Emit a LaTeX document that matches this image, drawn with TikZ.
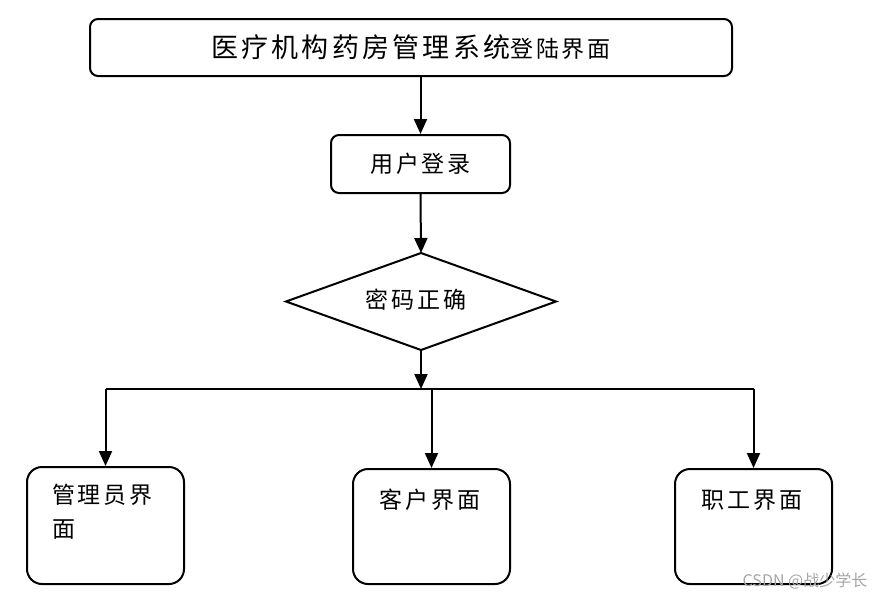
\documentclass[tikz,border=0pt]{standalone}
\usepackage{fontspec}
\newfontfamily\cjk[LetterSpace=12]{Noto Sans CJK SC}
\newfontfamily\cjkplain{Noto Sans CJK SC}
\usetikzlibrary{arrows.meta}
\begin{document}
\begin{tikzpicture}[x=1pt,y=-1pt,
  box/.style={draw,line width=2pt,rounded corners=8pt,inner sep=0pt},
  bigbox/.style={draw,line width=2pt,rounded corners=15pt,inner sep=0pt,minimum width=157pt,minimum height=115pt},
  lbl/.style={font=\cjk\fontsize{23}{34}\selectfont,inner sep=0pt},
  conn/.style={line width=2pt},
  arr/.style={line width=2pt,-{Triangle[width=13pt,length=15pt]}}]
\useasboundingbox (0,0) rectangle (889,600);
\node[box,minimum width=642pt,minimum height=57pt] (title) at (411,47.5)
  {\cjk\fontsize{27}{30}\selectfont 医疗机构药房管理系统\fontsize{23}{30}\selectfont 登陆界面};
\node[box,minimum width=179pt,minimum height=58pt,lbl] (login) at (420.5,164) {用户登录};
\coordinate (dn) at (421,253);
\coordinate (ds) at (421,350);
\coordinate (dw) at (286,301.5);
\coordinate (de) at (556,301.5);
\draw[line width=2pt,line join=miter] (dn) -- (de) -- (ds) -- (dw) -- cycle;
\node[lbl] (dia) at (416,300) {密码正确};
\coordinate (j) at (421,389);
\node[bigbox,minimum height=117pt] (admin) at (105.5,525.5) {};
\node[bigbox] (cust) at (431.5,526.5) {};
\node[bigbox] (staff) at (753.5,526.5) {};
\node[lbl,align=left,anchor=north west] (admint) at (52,484) {管理员界\\面};
\node[lbl] (custt) at (430,500) {客户界面};
\node[lbl] (stafft) at (752,500) {职工界面};
\node[font=\cjkplain\fontsize{16}{18}\selectfont,text=gray!70,inner sep=0pt] (wm) at (805,581) {CSDN @战少学长};
\draw[arr] (login.north |- title.south) -- (login.north);
\draw[arr] (login.south) -- (dn);
\draw[arr] (ds) -- (j);
\draw[conn] (admin.north |- j) -- (staff.north |- j);
\draw[arr] (admin.north |- j) -- (admin.north);
\draw[arr] (cust.north |- j) -- (cust.north);
\draw[arr] (staff.north |- j) -- (staff.north);
\end{tikzpicture}
\end{document}
